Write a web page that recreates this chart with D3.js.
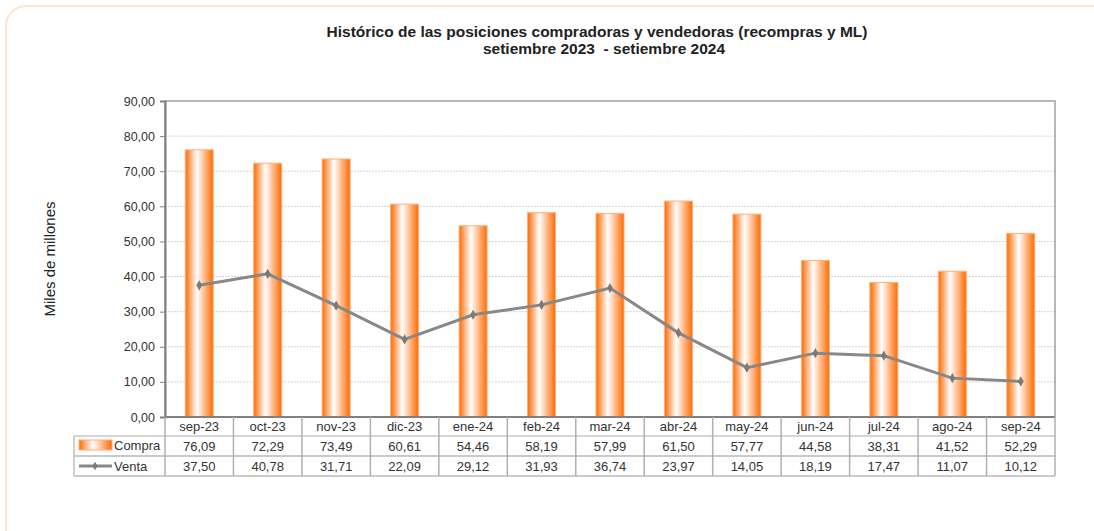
<!DOCTYPE html>
<html>
<head>
<meta charset="utf-8">
<script src="https://cdn.jsdelivr.net/npm/d3@7"></script>
<style>
body { margin:0; background:#fff; font-family: Arial, "Liberation Sans", sans-serif; }
svg text { font-family: Arial, "Liberation Sans", sans-serif; }
</style>
</head>
<body>
<div id="chart"></div>
<script>
var months = ["sep-23","oct-23","nov-23","dic-23","ene-24","feb-24","mar-24","abr-24","may-24","jun-24","jul-24","ago-24","sep-24"];
var compra = [76.09,72.29,73.49,60.61,54.46,58.19,57.99,61.50,57.77,44.58,38.31,41.52,52.29];
var venta = [37.50,40.78,31.71,22.09,29.12,31.93,36.74,23.97,14.05,18.19,17.47,11.07,10.12];
var yTicks = [0,10,20,30,40,50,60,70,80,90];

var fmt = d => d3.format(".2f")(d).replace(".", ",");

var dim = { width:1094, height:531, left:165, right:1055, top:101, bottom:417 };

var svg = d3.select("#chart").append("svg")
	.attr("width", dim.width)
	.attr("height", dim.height);

// card border
svg.append("rect")
	.attr("x", 6).attr("y", 6)
	.attr("width", 1110).attr("height", 560)
	.attr("rx", 20)
	.attr("fill", "none")
	.attr("stroke", "#fde2cf")
	.attr("stroke-width", 2);

var defs = svg.append("defs");
var grad = defs.append("linearGradient").attr("id","barGrad")
	.attr("x1","0%").attr("x2","100%").attr("y1","0%").attr("y2","0%");
grad.append("stop").attr("offset","0%").attr("stop-color","#ff6a00");
grad.append("stop").attr("offset","42%").attr("stop-color","#ffffff");
grad.append("stop").attr("offset","100%").attr("stop-color","#ff6a00");

// title
svg.append("text").attr("x", 597).attr("y", 37).attr("text-anchor","middle")
	.style("font-size","15.5px").style("font-weight","bold").attr("fill","#222")
	.text("Histórico de las posiciones compradoras y vendedoras (recompras y ML)");
svg.append("text").attr("x", 604).attr("y", 54).attr("text-anchor","middle")
	.style("font-size","15.5px").style("font-weight","bold").attr("fill","#222")
	.style("white-space","pre")
	.text("setiembre 2023  - setiembre 2024");

var x = d3.scaleBand().domain(months).range([dim.left, dim.right]);
var y = d3.scaleLinear().domain([0,90]).range([dim.bottom, dim.top]);

// gridlines
svg.append("g").selectAll("line")
	.data(yTicks.slice(1, -1))
	.join("line")
	.attr("x1", dim.left).attr("x2", dim.right)
	.attr("y1", d => y(d)).attr("y2", d => y(d))
	.attr("stroke", "#d4d4d4")
	.attr("stroke-dasharray", "2,1");

// plot border
svg.append("rect")
	.attr("x", dim.left).attr("y", dim.top)
	.attr("width", dim.right - dim.left).attr("height", dim.bottom - dim.top)
	.attr("fill", "none").attr("stroke", "#a0a0a0").attr("stroke-width", 1.5);

// y axis
var yAxis = d3.axisLeft(y).tickValues(yTicks).tickFormat(fmt).tickSize(5).tickPadding(5);
var ya = svg.append("g").attr("transform", `translate(${dim.left},0)`).call(yAxis);
ya.select(".domain").attr("stroke","#808080").attr("stroke-width",2);
ya.selectAll(".tick line").attr("stroke","#808080");
ya.selectAll("text").style("font-size","12.5px").attr("fill","#333");

svg.append("text")
	.attr("transform", "translate(55,259) rotate(-90)")
	.attr("text-anchor","middle")
	.style("font-size","15px").attr("fill","#222")
	.text("Miles de millones");

// bars
var bw = 28;
svg.append("g").selectAll("rect")
	.data(compra)
	.join("rect")
	.attr("x", (d,i) => x(months[i]) + x.bandwidth()/2 - bw/2)
	.attr("y", d => y(d))
	.attr("width", bw)
	.attr("height", d => y(0) - y(d))
	.attr("fill", "url(#barGrad)")
	.attr("stroke", "#ffb07a")
	.attr("stroke-width", 1);

// x axis baseline
svg.append("line")
	.attr("x1", dim.left).attr("x2", dim.right)
	.attr("y1", dim.bottom).attr("y2", dim.bottom)
	.attr("stroke", "#808080").attr("stroke-width", 2);

// venta line
var line = d3.line()
	.x((d,i) => x(months[i]) + x.bandwidth()/2)
	.y(d => y(d));
svg.append("path")
	.datum(venta)
	.attr("d", line)
	.attr("fill","none")
	.attr("stroke","#888888")
	.attr("stroke-width",3);
svg.append("g").selectAll("path")
	.data(venta)
	.join("path")
	.attr("d", d3.symbol(d3.symbolDiamond, 30))
	.attr("transform", (d,i) => `translate(${x(months[i]) + x.bandwidth()/2},${y(d)})`)
	.attr("fill","#7a7a7a");

// data table
var rowTop = [417, 436, 456, 476];
var tableLeft = 74;
var tbl = svg.append("g");

// header month labels
tbl.selectAll("text.m")
	.data(months)
	.join("text")
	.attr("class","m")
	.attr("x", d => x(d) + x.bandwidth()/2)
	.attr("y", 431)
	.attr("text-anchor","middle")
	.style("font-size","13px").attr("fill","#333")
	.text(d => d);

var rows = [compra, venta];
rows.forEach(function(r, k) {
	tbl.selectAll("text.v" + k)
		.data(r)
		.join("text")
		.attr("class","v" + k)
		.attr("x", (d,i) => x(months[i]) + x.bandwidth()/2)
		.attr("y", rowTop[k+1] + 15)
		.attr("text-anchor","middle")
		.style("font-size","13px").attr("fill","#333")
		.text(d => fmt(d));
});

// table grid: horizontal lines
[rowTop[1], rowTop[2], rowTop[3]].forEach(function(yy, k) {
	tbl.append("line").attr("x1", tableLeft).attr("x2", dim.right)
		.attr("y1", yy).attr("y2", yy)
		.attr("stroke", k == 0 ? "#c8c8c8" : "#b8b8b8").attr("stroke-width",1.5);
});
// vertical lines
var xs = months.map(m => x(m)).concat([dim.right]);
tbl.selectAll("line.vv")
	.data(xs)
	.join("line")
	.attr("class","vv")
	.attr("x1", d => d).attr("x2", d => d)
	.attr("y1", dim.bottom).attr("y2", rowTop[3])
	.attr("stroke","#b0b0b0").attr("stroke-width",1.5);
tbl.append("line").attr("x1", tableLeft).attr("x2", tableLeft)
	.attr("y1", rowTop[1]).attr("y2", rowTop[3])
	.attr("stroke","#c0c0c0").attr("stroke-width",1.5);

// legend keys in table
tbl.append("rect").attr("x", 79).attr("y", 440).attr("width", 33).attr("height", 10)
	.attr("fill","url(#barGrad)").attr("stroke","#ffb07a");
tbl.append("text").attr("x", 114).attr("y", 450).style("font-size","13px").attr("fill","#333").text("Compra");
tbl.append("line").attr("x1", 79).attr("x2", 112).attr("y1", 466).attr("y2", 466)
	.attr("stroke","#888").attr("stroke-width",3);
tbl.append("path").attr("d", d3.symbol(d3.symbolDiamond, 22)).attr("transform","translate(95,466)").attr("fill","#7a7a7a");
tbl.append("text").attr("x", 114).attr("y", 471).style("font-size","13px").attr("fill","#333").text("Venta");
</script>
</body>
</html>
